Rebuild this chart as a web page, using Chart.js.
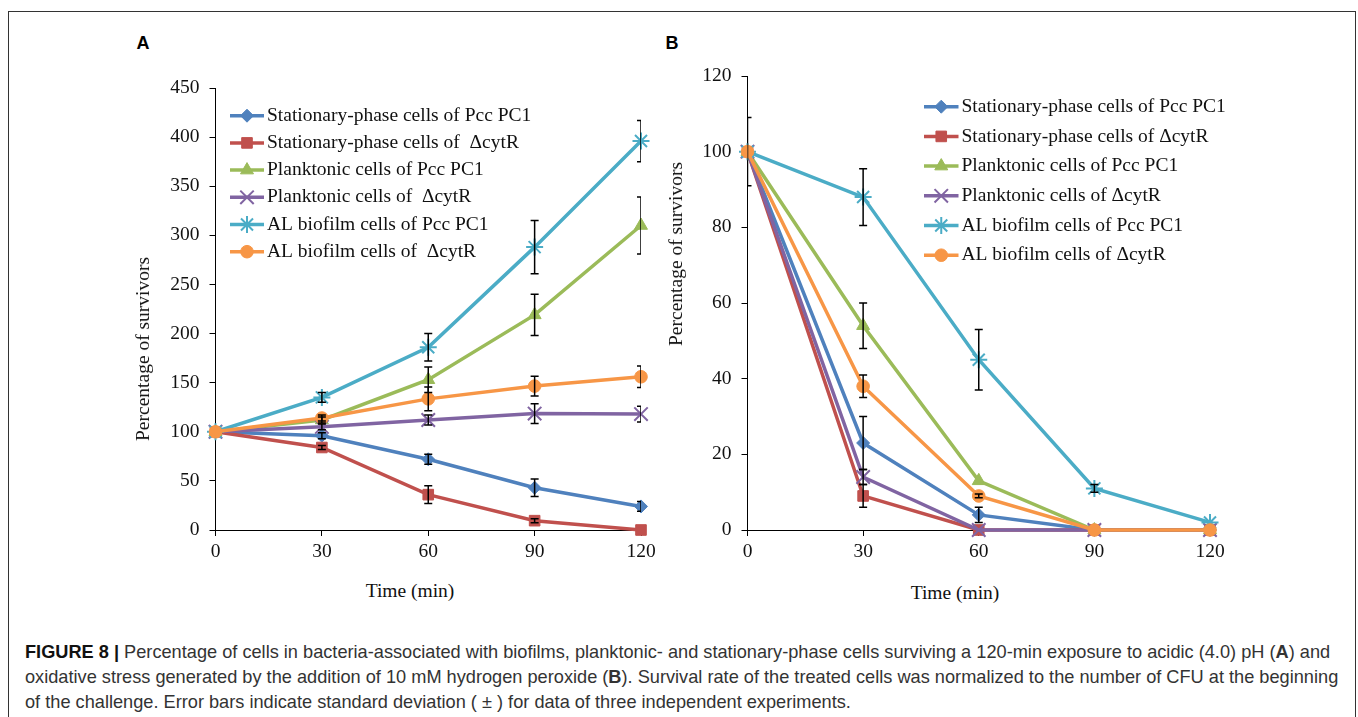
<!DOCTYPE html>
<html>
<head>
<meta charset="utf-8">
<script src="https://cdn.jsdelivr.net/npm/chart.js@4/dist/chart.umd.min.js"></script>
<style>
  body { margin: 0; width: 1358px; height: 717px; background: #fff; position: relative; overflow: hidden; }
  .frame { position: absolute; left: 8px; top: 11px; width: 1346px; height: 720px; border: 1px solid #333; }
  .box { position: absolute; }
  .panel { position: absolute; font: bold 18px "Liberation Sans", Arial, sans-serif; color: #000; transform: translate(-50%, -50%); }
  .axt { position: absolute; font: 19.5px "Liberation Serif", "Times New Roman", serif; color: #111; white-space: nowrap; transform: translate(-50%, -50%); }
  .axt.rot { transform: translate(-50%, -50%) rotate(-90deg); }
  .caption { position: absolute; left: 25px; top: 640px; font: 18.2px "Liberation Sans", Arial, sans-serif; color: #333; line-height: 25px; }
  .caption div { white-space: nowrap; }
</style>
</head>
<body>
<div class="frame"></div>

<div class="panel" style="left:143px; top:43px">A</div>
<div class="panel" style="left:672px; top:43px">B</div>

<div class="box" style="left:100px; top:60px"><canvas id="chartA" width="570" height="520"></canvas></div>
<div class="box" style="left:640px; top:50px"><canvas id="chartB" width="620" height="530"></canvas></div>

<div class="axt rot" style="left:142.5px; top:348.5px">Percentage of survivors</div>
<div class="axt rot" style="left:676px; top:253.5px">Percentage of survivors</div>
<div class="axt" style="left:410px; top:591px">Time (min)</div>
<div class="axt" style="left:955px; top:592.5px">Time (min)</div>

<div class="caption">
  <div><b style="color:#111">FIGURE 8 |</b> Percentage of cells in bacteria-associated with biofilms, planktonic- and stationary-phase cells surviving a 120-min exposure to acidic (4.0) pH (<b>A</b>) and</div>
  <div>oxidative stress generated by the addition of 10 mM hydrogen peroxide (<b>B</b>). Survival rate of the treated cells was normalized to the number of CFU at the beginning</div>
  <div>of the challenge. Error bars indicate standard deviation ( ± ) for data of three independent experiments.</div>
</div>

<script>
// time points (min)
const times = [0, 30, 60, 90, 120];

const namesA = [
  "Stationary-phase cells of Pcc PC1",
  "Stationary-phase cells of  \u0394cytR",
  "Planktonic cells of Pcc PC1",
  "Planktonic cells of  \u0394cytR",
  "AL biofilm cells of Pcc PC1",
  "AL biofilm cells of  \u0394cytR"
];
const namesB = [
  "Stationary-phase cells of Pcc PC1",
  "Stationary-phase cells of \u0394cytR",
  "Planktonic cells of Pcc PC1",
  "Planktonic cells of \u0394cytR",
  "AL biofilm cells of Pcc PC1",
  "AL biofilm cells of \u0394cytR"
];

// A: acidic pH 4.0
const acidStationaryPcc = [100, 96, 72, 43, 24];
const acidStationaryCyt = [100, 84, 36, 9.5, 0];
const acidPlanktonicPcc = [100, 112, 153, 219, 310];
const acidPlanktonicCyt = [100, 105, 112, 118.5, 118];
const acidBiofilmPcc = [100, 135, 186, 288, 396];
const acidBiofilmCyt = [100, 114, 133.5, 146.5, 156];

const acidStationaryPccSd = [0, 3, 5, 9, 5];
const acidStationaryCytSd = [0, 2, 9, 2, 0];
const acidPlanktonicPccSd = [0, 3, 13, 21, 29];
const acidPlanktonicCytSd = [0, 3, 5, 10, 8];
const acidBiofilmPccSd = [0, 5, 14, 27, 21];
const acidBiofilmCytSd = [0, 3, 12, 10, 11];

// B: 10 mM H2O2
const oxStationaryPcc = [100, 23, 4, 0, 0];
const oxStationaryCyt = [100, 9, 0, 0, 0];
const oxPlanktonicPcc = [100, 54, 13, 0, 0];
const oxPlanktonicCyt = [100, 14, 0, 0, 0];
const oxBiofilmPcc = [100, 88, 45, 11, 2];
const oxBiofilmCyt = [100, 38, 9, 0, 0];

const oxStationaryPccSd = [0, 7, 2, 0, 0];
const oxStationaryCytSd = [0, 3, 0, 0, 0];
const oxPlanktonicPccSd = [0, 6, 0, 0, 0];
const oxPlanktonicCytSd = [0, 2, 0, 0, 0];
const oxBiofilmPccSd = [9, 7.5, 8, 1, 0];
const oxBiofilmCytSd = [0, 3, 0.5, 0, 0];

const yTicksA = { max: 450, step: 50 };
const yTicksB = { max: 120, step: 20 };

// series look (office palette)
const colors = ["#4F81BD", "#C0504D", "#9BBB59", "#8064A2", "#4BACC6", "#F79646"];
const markers = ["rectRot", "rect", "triangle", "crossRot", "star", "circle"];
const markerSize = [6.5, 7.5, 7.5, 9.5, 8.5, 6.3];

const serifFont = '"Liberation Serif", "Times New Roman", serif';

function makeDatasets(names, values, errors) {
  return values.map((vals, i) => {
    const open = markers[i] === "crossRot" || markers[i] === "star";
    return {
      label: names[i],
      data: times.map((t, j) => ({ x: t, y: vals[j] })),
      errors: errors[i],
      borderColor: colors[i],
      borderWidth: 3.5,
      pointStyle: markers[i],
      pointRadius: markerSize[i],
      pointHoverRadius: markerSize[i],
      pointBackgroundColor: colors[i],
      pointBorderColor: colors[i],
      pointBorderWidth: open ? 2 : 1,
      tension: 0,
      clip: false,
      order: values.length - 1 - i
    };
  });
}

// black error bars, clipped to plot area
const errorBars = {
  id: 'errorBars',
  afterDatasetsDraw(chart) {
    const ctx = chart.ctx;
    const area = chart.chartArea;
    const xs = chart.scales.x, ys = chart.scales.y;
    ctx.save();
    ctx.beginPath();
    ctx.rect(area.left, area.top, area.right - area.left, area.bottom - area.top);
    ctx.clip();
    ctx.strokeStyle = "#000";
    ctx.lineWidth = 1.5;
    chart.data.datasets.forEach(ds => {
      ds.data.forEach((p, j) => {
        const e = ds.errors[j];
        if (!e) return;
        const px = xs.getPixelForValue(p.x);
        const top = ys.getPixelForValue(p.y + e);
        const bot = ys.getPixelForValue(p.y - e);
        ctx.beginPath();
        ctx.moveTo(px, top); ctx.lineTo(px, bot);
        ctx.moveTo(px - 4, top); ctx.lineTo(px + 4, top);
        ctx.moveTo(px - 4, bot); ctx.lineTo(px + 4, bot);
        ctx.stroke();
      });
    });
    ctx.restore();
  }
};

// legend drawn inside the plot, line + marker + text
const insideLegend = {
  id: 'insideLegend',
  afterDraw(chart, args, opts) {
    const ctx = chart.ctx;
    ctx.save();
    chart.data.datasets.forEach((ds, i) => {
      const y = opts.y + i * opts.gap;
      ctx.strokeStyle = ds.borderColor;
      ctx.lineWidth = ds.borderWidth;
      ctx.beginPath();
      ctx.moveTo(opts.x, y);
      ctx.lineTo(opts.x + opts.len, y);
      ctx.stroke();
      ctx.fillStyle = ds.pointBackgroundColor;
      ctx.strokeStyle = ds.pointBorderColor;
      ctx.lineWidth = ds.pointBorderWidth;
      Chart.helpers.drawPoint(ctx, {
        pointStyle: ds.pointStyle,
        radius: ds.pointRadius,
        borderWidth: ds.pointBorderWidth,
        rotation: 0
      }, opts.x + opts.len / 2, y);
      ctx.fillStyle = "#111";
      ctx.font = "19.5px " + serifFont;
      ctx.textBaseline = "middle";
      ctx.textAlign = "left";
      ctx.fillText(ds.label, opts.x + opts.len + 3, y);
    });
    ctx.restore();
  }
};

function axisOpts(min, max, step, fixedSize, horizontal) {
  return {
    type: 'linear',
    min: min,
    max: max,
    afterFit: s => { if (horizontal) s.height = fixedSize; else s.width = fixedSize; },
    ticks: {
      stepSize: step,
      color: "#111",
      padding: horizontal ? 4 : 10,
      maxRotation: 0,
      font: { family: serifFont, size: 19.5 }
    },
    grid: { drawOnChartArea: false, drawTicks: true, tickLength: 6, color: "#000" },
    border: { color: "#000", width: 1 }
  };
}

function makeChart(id, datasets, yt, layout, legendPos) {
  return new Chart(document.getElementById(id), {
    type: 'line',
    data: { datasets: datasets },
    options: {
      responsive: false,
      animation: false,
      layout: { padding: layout.padding },
      plugins: {
        legend: { display: false },
        tooltip: { enabled: false },
        insideLegend: legendPos
      },
      scales: {
        x: axisOpts(0, 120, 30, layout.xHeight, true),
        y: axisOpts(0, yt.max, yt.step, layout.yWidth, false)
      }
    },
    plugins: [errorBars, insideLegend]
  });
}

makeChart('chartA',
  makeDatasets(namesA,
    [acidStationaryPcc, acidStationaryCyt, acidPlanktonicPcc, acidPlanktonicCyt, acidBiofilmPcc, acidBiofilmCyt],
    [acidStationaryPccSd, acidStationaryCytSd, acidPlanktonicPccSd, acidPlanktonicCytSd, acidBiofilmPccSd, acidBiofilmCytSd]),
  yTicksA,
  { padding: { left: 0, top: 28, right: 29, bottom: 0 }, xHeight: 50, yWidth: 115.5 },
  { x: 130, y: 55.7, gap: 27.2, len: 34 });

makeChart('chartB',
  makeDatasets(namesB,
    [oxStationaryPcc, oxStationaryCyt, oxPlanktonicPcc, oxPlanktonicCyt, oxBiofilmPcc, oxBiofilmCyt],
    [oxStationaryPccSd, oxStationaryCytSd, oxPlanktonicPccSd, oxPlanktonicCytSd, oxBiofilmPccSd, oxBiofilmCytSd]),
  yTicksB,
  { padding: { left: 0, top: 26, right: 50, bottom: 0 }, xHeight: 50, yWidth: 107.5 },
  { x: 284, y: 56.7, gap: 29.7, len: 34.5 });
</script>
</body>
</html>
